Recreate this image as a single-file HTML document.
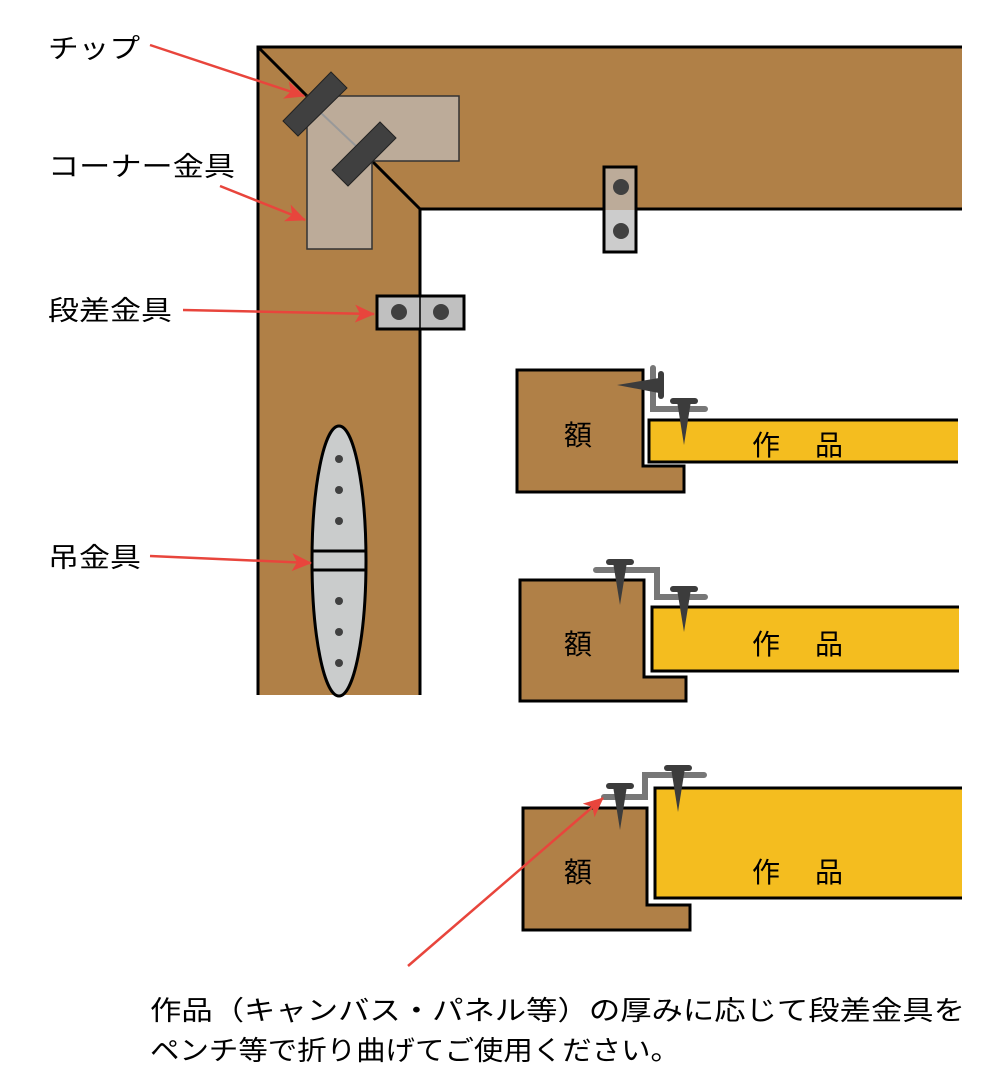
<!DOCTYPE html>
<html><head><meta charset="utf-8"><style>html,body{margin:0;padding:0;background:#fff}svg{display:block}</style></head>
<body>
<svg width="1000" height="1092" viewBox="0 0 1000 1092" xmlns="http://www.w3.org/2000/svg" font-family="Liberation Sans, Noto Sans CJK JP, sans-serif">
<defs><marker id="ar" markerWidth="20" markerHeight="20" refX="19" refY="10" orient="auto" markerUnits="userSpaceOnUse" viewBox="0 0 20 20"><path d="M0,1 L20,10 L0,19 L5,10 Z" fill="#e8453c"/></marker></defs>
<!-- frame -->
<path d="M258,695 L258,47 L962,47 L962,209 L420,209 L420,695 Z" fill="#b08047"/>
<path d="M258,695 L258,47 L962,47 M962,209 L420,209 L420,695" fill="none" stroke="#000" stroke-width="3"/>
<line x1="258" y1="47" x2="420" y2="209" stroke="#000" stroke-width="3"/>
<!-- corner bracket -->
<path d="M307,96 L459,96 L459,161 L372,161 L372,249 L307,249 Z" fill="#bcab99" stroke="#333" stroke-width="1.5"/>
<line x1="320" y1="112" x2="357" y2="147" stroke="#999" stroke-width="2"/>
<polygon points="283,121 331,72 347,88 298,136" fill="#404040" stroke="#222" stroke-width="1"/>
<polygon points="332,170 380,122 396,138 348,186" fill="#404040" stroke="#222" stroke-width="1"/>
<!-- step brackets -->
<rect x="604" y="167" width="32" height="43" fill="#bcab99"/>
<rect x="604" y="210" width="32" height="42" fill="#cccccc"/>
<rect x="604" y="167" width="32" height="85" fill="none" stroke="#000" stroke-width="3"/>
<circle cx="621" cy="187" r="8" fill="#404040"/><circle cx="621" cy="231" r="8" fill="#404040"/>
<rect x="377" y="296" width="87" height="33" fill="#c0c0c0" stroke="#000" stroke-width="3"/>
<line x1="420" y1="296" x2="420" y2="329" stroke="#000" stroke-width="1.5"/>
<circle cx="399" cy="312" r="8" fill="#404040"/><circle cx="441" cy="312" r="8" fill="#404040"/>
<!-- hanger -->
<ellipse cx="339" cy="561" rx="27" ry="135" fill="#cacccc" stroke="#000" stroke-width="3"/>
<line x1="312" y1="551" x2="366" y2="551" stroke="#000" stroke-width="3"/>
<line x1="312" y1="570" x2="366" y2="570" stroke="#000" stroke-width="3"/>
<g fill="#404040"><circle cx="339" cy="459" r="4"/><circle cx="339" cy="490" r="4"/><circle cx="339" cy="521" r="4"/><circle cx="339" cy="601" r="4"/><circle cx="339" cy="632" r="4"/><circle cx="339" cy="663" r="4"/></g>
<!-- section 1 -->
<path d="M517,370 L643,370 L643,466 L684,466 L684,492 L517,492 Z" fill="#b08047" stroke="#000" stroke-width="3"/>
<rect x="649" y="420" width="309" height="42" fill="#f4bd1f"/>
<path d="M958,420 L649,420 L649,462 L958,462" fill="none" stroke="#000" stroke-width="3"/>
<path d="M653,368 L653,409 L705,409" fill="none" stroke="#777" stroke-width="6" stroke-linecap="round"/>
<path d="M617,385 L659,378 L659,393 Z" fill="#3c3c3c"/>
<line x1="661" y1="374" x2="661" y2="396" stroke="#3c3c3c" stroke-width="6" stroke-linecap="round"/>
<path d="M677,401 L691,401 L684,445 Z" fill="#3c3c3c"/>
<line x1="673" y1="401" x2="695" y2="401" stroke="#3c3c3c" stroke-width="6" stroke-linecap="round"/>
<!-- section 2 -->
<path d="M520,580 L644,580 L644,677 L686,677 L686,701 L520,701 Z" fill="#b08047" stroke="#000" stroke-width="3"/>
<rect x="652" y="607" width="307" height="64" fill="#f4bd1f"/>
<path d="M959,607 L652,607 L652,671 L959,671" fill="none" stroke="#000" stroke-width="3"/>
<path d="M596,570 L657,570 L657,597 L705,597" fill="none" stroke="#777" stroke-width="6" stroke-linecap="round"/>
<path d="M613,562 L627,562 L620,605 Z" fill="#3c3c3c"/>
<line x1="609" y1="562" x2="631" y2="562" stroke="#3c3c3c" stroke-width="6" stroke-linecap="round"/>
<path d="M677,589 L691,589 L684,632 Z" fill="#3c3c3c"/>
<line x1="673" y1="589" x2="695" y2="589" stroke="#3c3c3c" stroke-width="6" stroke-linecap="round"/>
<!-- section 3 -->
<path d="M523,808 L647,808 L647,905 L690,905 L690,930 L523,930 Z" fill="#b08047" stroke="#000" stroke-width="3"/>
<rect x="655" y="788" width="307" height="110" fill="#f4bd1f"/>
<path d="M962,788 L655,788 L655,898 L962,898" fill="none" stroke="#000" stroke-width="3"/>
<path d="M604,797 L645,797 L645,775 L704,775" fill="none" stroke="#777" stroke-width="6" stroke-linecap="round"/>
<path d="M613,786 L627,786 L620,830 Z" fill="#3c3c3c"/>
<line x1="609" y1="786" x2="631" y2="786" stroke="#3c3c3c" stroke-width="6" stroke-linecap="round"/>
<path d="M671,768 L685,768 L678,812 Z" fill="#3c3c3c"/>
<line x1="667" y1="768" x2="689" y2="768" stroke="#3c3c3c" stroke-width="6" stroke-linecap="round"/>
<!-- labels in shapes -->
<g font-size="28" fill="#000">
<text x="564" y="445">額</text><text x="752" y="455">作</text><text x="815" y="455">品</text>
<text x="564" y="654">額</text><text x="752" y="654">作</text><text x="815" y="654">品</text>
<text x="564" y="882">額</text><text x="752" y="882">作</text><text x="815" y="882">品</text>
</g>
<!-- arrows -->
<g stroke="#e8453c" stroke-width="2.5" fill="none" marker-end="url(#ar)">
<line x1="150" y1="45" x2="304" y2="96"/>
<line x1="220" y1="186" x2="305" y2="220"/>
<line x1="183" y1="310" x2="374" y2="314"/>
<line x1="150" y1="556" x2="311" y2="563"/>
<line x1="408" y1="966" x2="603" y2="798"/>
</g>
<!-- side labels -->
<g font-size="27" fill="#000">
<text x="48" y="58" textLength="92" lengthAdjust="spacingAndGlyphs">チップ</text>
<text x="48" y="176" textLength="187" lengthAdjust="spacingAndGlyphs">コーナー金具</text>
<text x="48" y="320" textLength="124" lengthAdjust="spacingAndGlyphs">段差金具</text>
<text x="48" y="567" textLength="93" lengthAdjust="spacingAndGlyphs">吊金具</text>
<text x="150" y="1020" textLength="815" lengthAdjust="spacingAndGlyphs">作品（キャンバス・パネル等）の厚みに応じて段差金具を</text>
<text x="150" y="1060" textLength="530" lengthAdjust="spacingAndGlyphs">ペンチ等で折り曲げてご使用ください。</text>
</g>
</svg>
</body></html>
